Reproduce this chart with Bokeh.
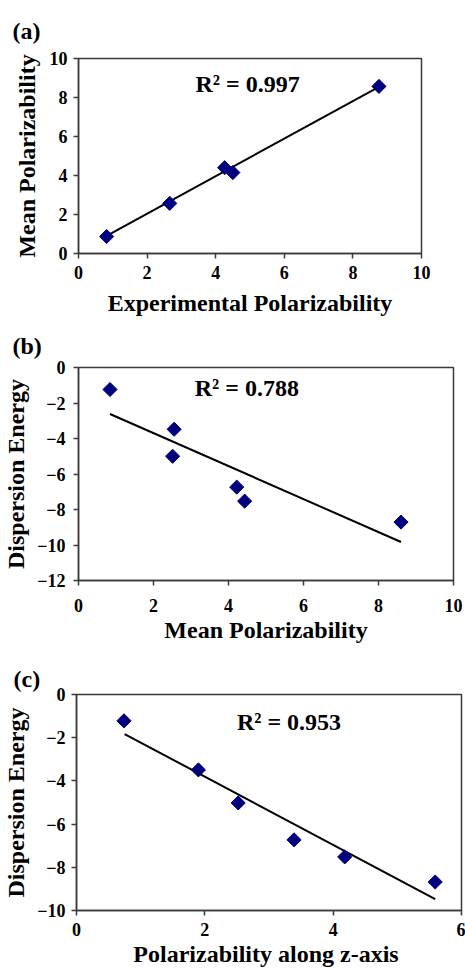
import numpy as np
from bokeh.plotting import figure
from bokeh.models import Range1d, FixedTicker, Label
from bokeh.embed import file_html
from bokeh.resources import INLINE

# ---- data ----
# (a) Experimental vs Mean polarizability
a_x = [0.82, 2.66, 4.26, 4.50, 8.76]
a_y = [0.87, 2.57, 4.40, 4.15, 8.57]
a_fit_x = [0.82, 8.76]
a_fit_y = [0.90, 8.55]
a_r2 = "R² = 0.997"

# (b) Mean polarizability vs Dispersion energy
b_x = [0.84, 2.55, 2.51, 4.22, 4.43, 8.60]
b_y = [-1.24, -3.48, -5.00, -6.74, -7.53, -8.71]
b_fit_x = [0.84, 8.60]
b_fit_y = [-2.62, -9.83]
b_r2 = "R² = 0.788"

# (c) Polarizability along z-axis vs Dispersion energy
c_x = [0.74, 1.90, 2.52, 3.39, 4.18, 5.59]
c_y = [-1.22, -3.49, -5.02, -6.73, -7.52, -8.68]
c_fit_x = [0.75, 5.59]
c_fit_y = [-1.83, -9.47]
c_r2 = "R² = 0.953"

FONT = "Liberation Serif"
AXC = "#3a3a3a"
MARK = "#00007f"


def make(height, left, right, top, bottom, xr, yr, xt, yt, xlabel, ylabel,
         xs, ys, fx, fy, r2, r2x, r2y, tag, tag_off, tag_stand,
         xstand, xlstand, ystand, ylstand):
    p = figure(width=465, height=height, output_backend="svg", toolbar_location=None,
               min_border_left=left, min_border_right=right,
               min_border_top=top, min_border_bottom=bottom,
               x_range=Range1d(*xr), y_range=Range1d(*yr))
    p.xgrid.visible = False
    p.ygrid.visible = False
    p.outline_line_color = AXC
    p.outline_line_width = 1.5
    p.xaxis.ticker = FixedTicker(ticks=xt)
    p.yaxis.ticker = FixedTicker(ticks=yt)
    for ax in (p.xaxis[0], p.yaxis[0]):
        ax.axis_line_color = AXC
        ax.axis_line_width = 1.5
        ax.major_tick_line_color = AXC
        ax.major_tick_line_width = 1.5
        ax.major_tick_in = 0
        ax.major_tick_out = 5
        ax.minor_tick_line_color = None
        ax.major_label_text_font = FONT
        ax.major_label_text_font_style = "bold"
        ax.major_label_text_font_size = "18px"
        ax.major_label_text_color = "black"
        ax.axis_label_text_font = FONT
        ax.axis_label_text_font_style = "bold"
        ax.axis_label_text_font_size = "24px"
        ax.axis_label_text_color = "black"
    p.xaxis.axis_label = xlabel
    p.yaxis.axis_label = ylabel
    p.xaxis.major_label_standoff = xstand
    p.xaxis.axis_label_standoff = xlstand
    p.yaxis.major_label_standoff = ystand
    p.yaxis.axis_label_standoff = ylstand

    p.title.text = tag
    p.title.align = "left"
    p.title.offset = tag_off
    p.title.standoff = tag_stand
    p.title.text_font = FONT
    p.title.text_font_style = "bold"
    p.title.text_font_size = "24px"
    p.title.text_color = "black"

    p.line(fx, fy, line_color="black", line_width=2)
    p.scatter(xs, ys, marker="square", angle=np.pi / 4, size=10,
              fill_color=MARK, line_color=MARK)

    p.add_layout(Label(x=r2x, y=r2y, text=r2, text_font=FONT, text_font_style="bold",
                       text_font_size="24px", text_baseline="middle", text_color="black"))
    return p


pa = make(318, 78, 44, 57, 65, (0, 10), (0, 10), [0, 2, 4, 6, 8, 10], [0, 2, 4, 6, 8, 10],
          "Experimental Polarizability", "Mean Polarizability",
          a_x, a_y, a_fit_x, a_fit_y, a_r2, 3.41, 8.67, "(a)", -66, 30, 7, 8, 6, 7)
pb = make(327, 78, 12, 49, 65, (0, 10), (-12, 0), [0, 2, 4, 6, 8, 10], [-12, -10, -8, -6, -4, -2, 0],
          "Mean Polarizability", "Dispersion Energy",
          b_x, b_y, b_fit_x, b_fit_y, b_r2, 3.1, -1.13, "(b)", -66, 17, 13, 2, 8, 5)
pc = make(324, 75, 4, 49, 56, (0, 6), (-10, 0), [0, 2, 4, 6], [-10, -8, -6, -4, -2, 0],
          "Polarizability along  z-axis", "Dispersion Energy",
          c_x, c_y, c_fit_x, c_fit_y, c_r2, 2.5, -1.25, "(c)", -63, 5, 7, 2, 6, 5)

open("out.html", "w").write(file_html([pa, pb, pc], INLINE))
